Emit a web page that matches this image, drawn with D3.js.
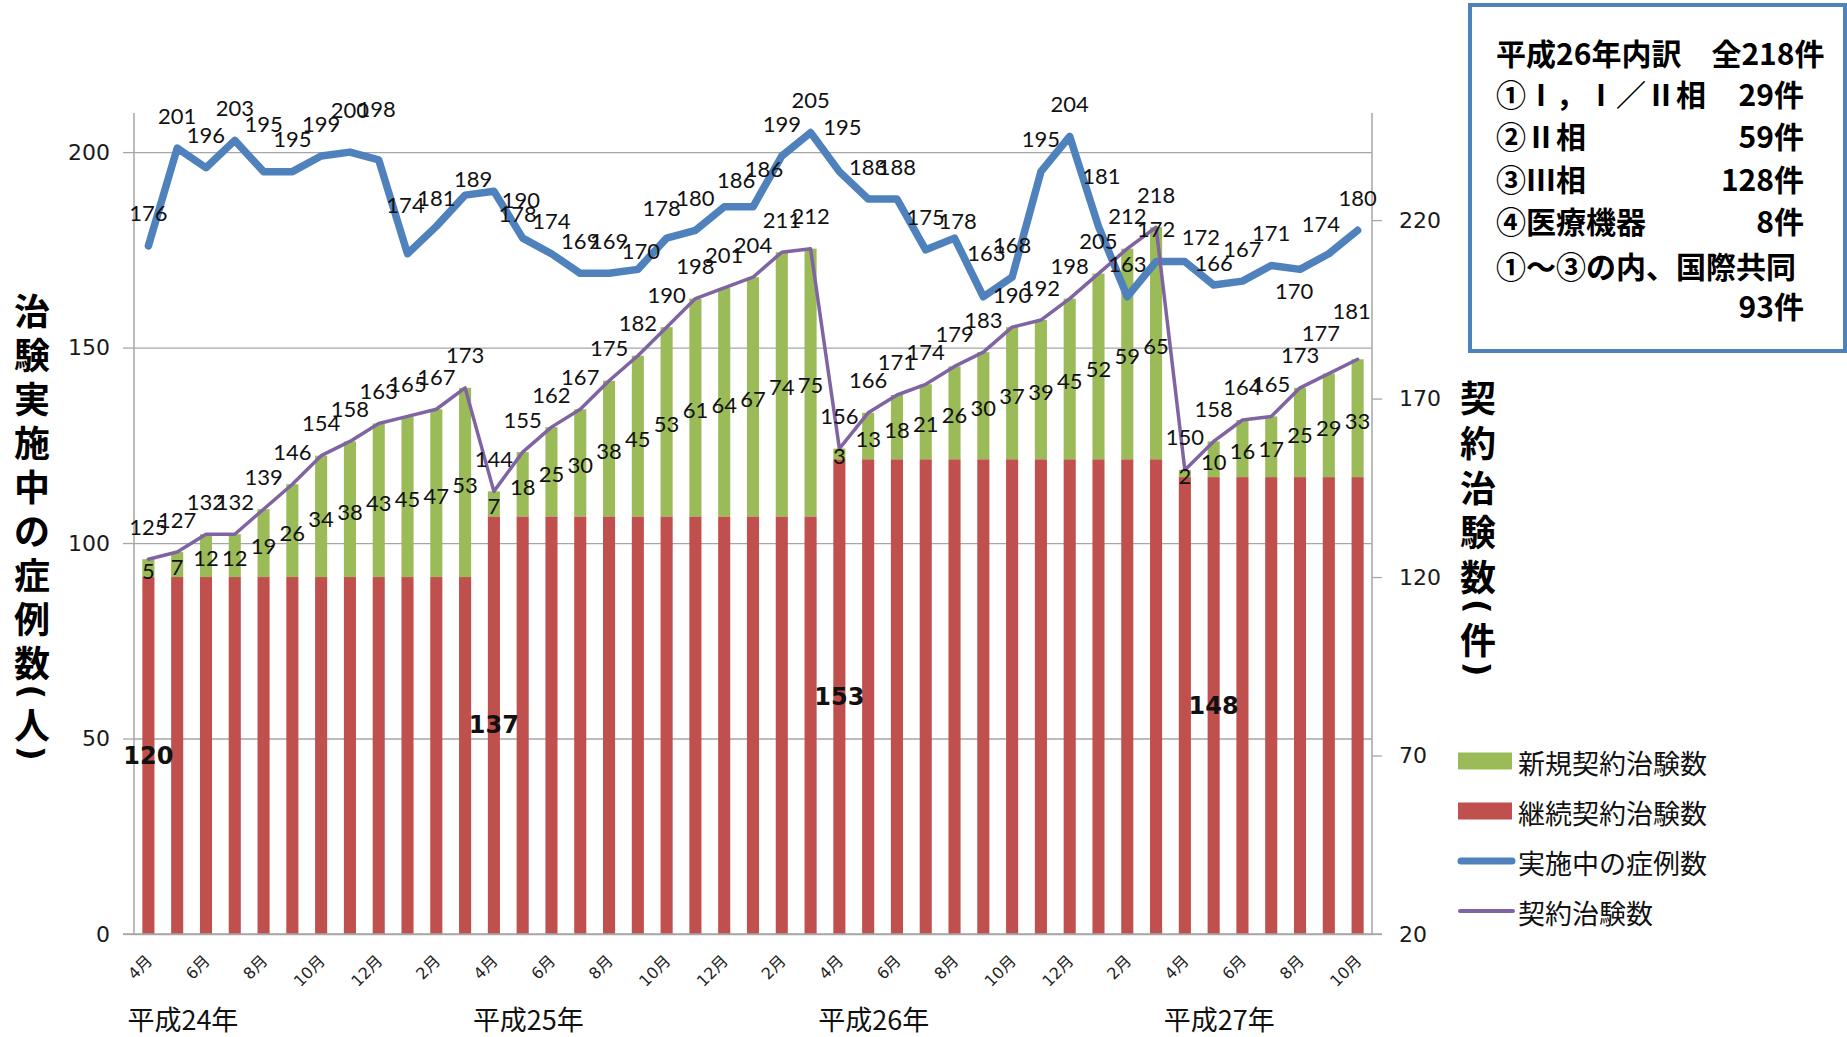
<!DOCTYPE html>
<html><head><meta charset="utf-8">
<script src="https://cdn.jsdelivr.net/npm/d3@7"></script>
<style>body{margin:0;background:#fff}svg{display:block}</style>
</head><body>
<svg id="chart" width="1847" height="1037"></svg>
<script>
// ---------------- data ----------------
const monthLabels = ["4月","5月","6月","7月","8月","9月","10月","11月","12月","1月","2月","3月",
                     "4月","5月","6月","7月","8月","9月","10月","11月","12月","1月","2月","3月",
                     "4月","5月","6月","7月","8月","9月","10月","11月","12月","1月","2月","3月",
                     "4月","5月","6月","7月","8月","9月","10月"];
const yearLabels = ["平成24年","平成25年","平成26年","平成27年"];
const yearStartIndex = [0,12,24,36];
const newTrials = [5,7,12,12,19,26,34,38,43,45,47,53,
                   7,18,25,30,38,45,53,61,64,67,74,75,
                   3,13,18,21,26,30,37,39,45,52,59,65,
                   2,10,16,17,25,29,33];
const continuingTrials = [120,120,120,120,120,120,120,120,120,120,120,120,
                          137,137,137,137,137,137,137,137,137,137,137,137,
                          153,153,153,153,153,153,153,153,153,153,153,153,
                          148,148,148,148,148,148,148];
const continuingLabelIndex = [0,12,24,37];
const totalTrials = [125,127,132,132,139,146,154,158,163,165,167,173,
                     144,155,162,167,175,182,190,198,201,204,211,212,
                     156,166,171,174,179,183,190,192,198,205,212,218,
                     150,158,164,165,173,177,181];
const activeCases = [176,201,196,203,195,195,199,200,198,174,181,189,
                     190,178,174,169,169,170,178,180,186,186,199,205,
                     195,188,188,175,178,163,168,195,204,181,163,172,
                     172,166,167,171,170,174,180];
const seriesNames = ["新規契約治験数","継続契約治験数","実施中の症例数","契約治験数"];
const leftTicks = [0,50,100,150,200];
const rightTicks = [20,70,120,170,220];
const leftTitle = "治験実施中の症例数(人)";
const rightTitle = "契約治験数(件)";
const boxLines = [
  ["平成26年内訳　全218件", ""],
  ["①Ⅰ，Ⅰ／Ⅱ相", "29件"],
  ["②Ⅱ相", "59件"],
  ["③Ⅲ相", "128件"],
  ["④医療機器", "8件"],
  ["①～③の内、国際共同", ""],
  ["", "93件"]
];

// ---------------- style / layout ----------------
const C = {green:"#9BBB59", red:"#C0504D", blue:"#4F81BD", purple:"#8064A2", grid:"#a6a6a6", text:"#1a1a1a"};
const plot = {left:134, right:1372, top:113, bottom:934};
// manual label nudges (dx, dy) relative to default "above" placement
const activeNudge = {4:[0,-15],7:[0,-10],8:[-2,-18],9:[-2,-16],10:[0,4],11:[8,16],12:[27,41],13:[-5,8],
  17:[3,14],18:[-5,2],20:[12,6],21:[11,-5],24:[3,-12],28:[3,15],29:[3,-11],33:[3,-18],36:[16,8],37:[0,10],40:[-6,54],41:[-8,3]};
const totalNudge = {41:[-8,-8],42:[-6,-16]};

const svg = d3.select("#chart");
const n = monthLabels.length;
const x = d3.scaleBand().domain(d3.range(n)).range([plot.left, plot.right]).paddingInner(0.58).paddingOuter(0.29);
const cx = i => x(i) + x.bandwidth()/2;
const yL = d3.scaleLinear().domain([0,210]).range([plot.bottom, plot.top]);
const yR = d3.scaleLinear().domain([20,250]).range([plot.bottom, plot.top]);

// gridlines
svg.append("g").attr("transform",`translate(${plot.left},0)`)
  .call(d3.axisLeft(yL).tickValues(leftTicks).tickSize(-(plot.right-plot.left)).tickFormat("").tickSizeOuter(0))
  .call(g=>g.select(".domain").remove())
  .call(g=>g.selectAll("line").attr("stroke",C.grid).attr("stroke-width",1.3));

// bars
const barG = svg.append("g");
barG.selectAll("rect.red").data(continuingTrials).join("rect").attr("class","red")
  .attr("x",(d,i)=>x(i)).attr("width",x.bandwidth())
  .attr("y",d=>yR(d)).attr("height",d=>yR(20)-yR(d)).attr("fill",C.red);
barG.selectAll("rect.green").data(newTrials).join("rect").attr("class","green")
  .attr("x",(d,i)=>x(i)).attr("width",x.bandwidth())
  .attr("y",(d,i)=>yR(continuingTrials[i]+d)).attr("height",(d,i)=>yR(continuingTrials[i])-yR(continuingTrials[i]+d)).attr("fill",C.green);

// left axis
svg.append("g").attr("transform",`translate(${plot.left},0)`)
  .call(d3.axisLeft(yL).tickValues(leftTicks).tickSize(11).tickPadding(13).tickSizeOuter(0))
  .call(g=>g.select(".domain").remove())
  .call(g=>g.selectAll("line").attr("stroke",C.grid).attr("stroke-width",1.3))
  .call(g=>g.selectAll("text").attr("font-family","DejaVu Sans").attr("font-size",22).attr("fill",C.text));
// right axis
svg.append("g").attr("transform",`translate(${plot.right},0)`)
  .call(d3.axisRight(yR).tickValues(rightTicks).tickSize(10).tickPadding(17).tickSizeOuter(0))
  .call(g=>g.select(".domain").remove())
  .call(g=>g.selectAll("line").attr("stroke",C.grid).attr("stroke-width",1.3))
  .call(g=>g.selectAll("text").attr("font-family","DejaVu Sans").attr("font-size",22).attr("fill",C.text));
// axis lines
svg.append("line").attr("x1",plot.left).attr("x2",plot.left).attr("y1",plot.top).attr("y2",plot.bottom).attr("stroke",C.grid).attr("stroke-width",1.5);
svg.append("line").attr("x1",plot.right).attr("x2",plot.right).attr("y1",plot.top).attr("y2",plot.bottom).attr("stroke",C.grid).attr("stroke-width",1.5);
svg.append("line").attr("x1",plot.left-11).attr("x2",plot.right+10).attr("y1",plot.bottom).attr("y2",plot.bottom).attr("stroke",C.grid).attr("stroke-width",1.5);

// bottom axis labels
svg.append("g").attr("transform",`translate(0,${plot.bottom})`)
  .call(d3.axisBottom(x).tickValues(d3.range(0,n,2)).tickFormat(i=>monthLabels[i]).tickSize(0).tickSizeOuter(0))
  .call(g=>g.select(".domain").remove())
  .call(g=>g.selectAll("text").attr("y",0).attr("dy","0.35em").attr("text-anchor","end")
     .attr("transform","translate(1,24) rotate(-45)")
     .attr("font-family","DejaVu Sans, 'Noto Sans CJK JP'").attr("font-size",16).attr("fill","#222"));

// year labels
svg.append("g").selectAll("text").data(yearLabels).join("text")
  .attr("x",(d,k)=>cx(yearStartIndex[k])-21).attr("y",1018).attr("dominant-baseline","central")
  .attr("font-family","'Noto Sans CJK JP'").attr("font-size",27).attr("fill","#111").text(d=>d);

// lines
const lineActive = d3.line().x((d,i)=>cx(i)).y(d=>yL(d));
const lineTotal = d3.line().x((d,i)=>cx(i)).y(d=>yR(d));
svg.append("path").datum(activeCases).attr("d",lineActive).attr("fill","none").attr("stroke",C.blue)
  .attr("stroke-width",7.5).attr("stroke-linejoin","round").attr("stroke-linecap","round");
svg.append("path").datum(totalTrials).attr("d",lineTotal).attr("fill","none").attr("stroke",C.purple)
  .attr("stroke-width",3.5).attr("stroke-linejoin","round").attr("stroke-linecap","round");

// data labels
const lab = svg.append("g").attr("font-family","Lato, 'Open Sans', sans-serif").attr("font-size",22)
  .attr("fill","#111").attr("text-anchor","middle").attr("dominant-baseline","central");
lab.selectAll("text.g").data(newTrials).join("text").attr("class","g")
  .attr("x",(d,i)=>cx(i)).attr("y",(d,i)=>(yR(continuingTrials[i])+yR(continuingTrials[i]+d))/2+2).text(d=>d);
lab.selectAll("text.p").data(totalTrials).join("text").attr("class","p")
  .attr("x",(d,i)=>cx(i)+((totalNudge[i]||[0,0])[0])).attr("y",(d,i)=>yR(d)-33+((totalNudge[i]||[0,0])[1])).text(d=>d);
lab.selectAll("text.b").data(activeCases).join("text").attr("class","b")
  .attr("x",(d,i)=>cx(i)+((activeNudge[i]||[0,0])[0])).attr("y",(d,i)=>yL(d)-33+((activeNudge[i]||[0,0])[1])).text(d=>d);
// bold continuing labels (one per fiscal year)
svg.append("g").selectAll("text").data(continuingLabelIndex).join("text")
  .attr("x",i=>cx(i)).attr("y",i=>(yR(20)+yR(continuingTrials[i]))/2)
  .attr("text-anchor","middle").attr("dominant-baseline","central")
  .attr("font-family","DejaVu Sans").attr("font-weight","bold").attr("font-size",24).attr("fill","#111")
  .text(i=>continuingTrials[i]);

// vertical axis titles
function verticalTitle(str, xc, y0, pitch){
  const g = svg.append("g").attr("font-family","'Noto Sans CJK JP'").attr("font-weight",700).attr("font-size",36).attr("fill","#000");
  const half = c => (c==="("||c===")") ? pitch*0.2 : pitch*0.5;
  let y = y0; const chars = Array.from(str);
  chars.forEach((c,i)=>{
    if(i>0) y += half(chars[i-1]) + half(c);
    const t = g.append("text").attr("x",xc).attr("y",y).attr("text-anchor","middle").attr("dominant-baseline","central").text(c);
    if(c==="("||c===")") t.attr("font-family","DejaVu Sans").attr("font-size",32).attr("transform",`rotate(90,${xc},${y})`);
  });
}
verticalTitle(leftTitle, 32, 309, 44);
verticalTitle(rightTitle, 1478, 396, 44.75);

// legend
const lg = svg.append("g");
const legY = d => 761 + d*50;
lg.append("rect").attr("x",1458).attr("y",legY(0)-8.5).attr("width",54).attr("height",17).attr("fill",C.green);
lg.append("rect").attr("x",1458).attr("y",legY(1)-8.5).attr("width",54).attr("height",17).attr("fill",C.red);
lg.append("line").attr("x1",1461).attr("x2",1512).attr("y1",legY(2)).attr("y2",legY(2)).attr("stroke",C.blue).attr("stroke-width",7).attr("stroke-linecap","round");
lg.append("line").attr("x1",1460).attr("x2",1513).attr("y1",legY(3)).attr("y2",legY(3)).attr("stroke",C.purple).attr("stroke-width",4).attr("stroke-linecap","round");
lg.selectAll("text").data(seriesNames).join("text").attr("x",1518).attr("y",(d,i)=>legY(i)+1)
  .attr("dominant-baseline","central").attr("font-family","'Noto Sans CJK JP'").attr("font-size",27).attr("fill","#111").text(d=>d);

// info box
svg.append("rect").attr("x",1470).attr("y",5).attr("width",375).attr("height",346)
  .attr("fill","#fff").attr("stroke",C.blue).attr("stroke-width",4);
const bg = svg.append("g").attr("font-family","'Noto Sans CJK JP'").attr("font-weight",700).attr("font-size",30).attr("fill","#000").attr("dominant-baseline","central");
const boxY = [52,93,135,178,220,265,305];
bg.selectAll("text.l").data(boxLines).join("text").attr("class","l").attr("x",1496).attr("y",(d,i)=>boxY[i]).text(d=>d[0]);
bg.selectAll("text.r").data(boxLines).join("text").attr("class","r").attr("x",1804).attr("y",(d,i)=>boxY[i]).attr("text-anchor","end").text(d=>d[1]);
</script>
</body></html>
